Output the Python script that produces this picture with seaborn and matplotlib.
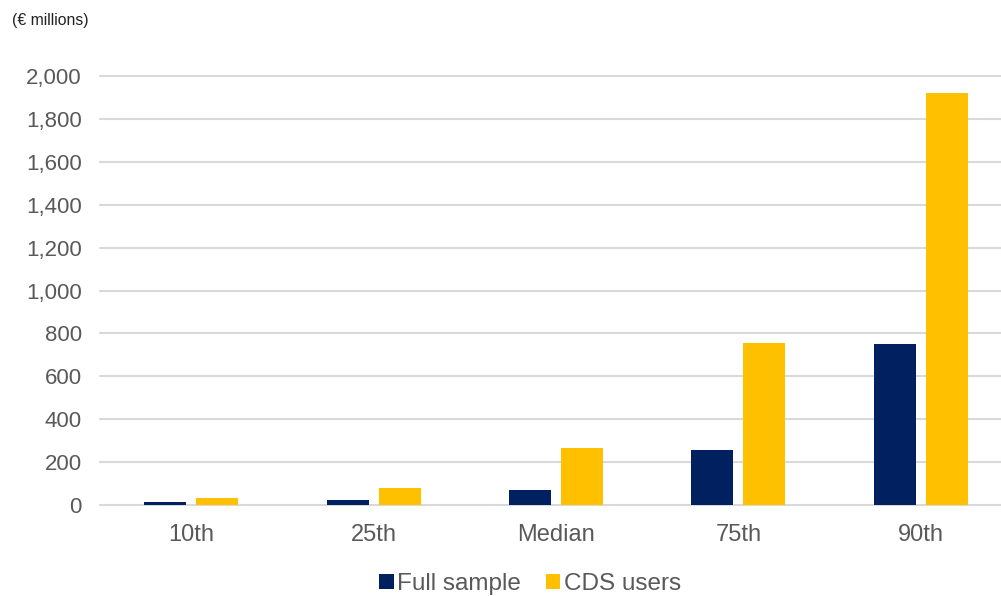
import matplotlib
matplotlib.use("Agg")
import matplotlib.pyplot as plt
import seaborn as sns
import pandas as pd
from matplotlib.patches import Patch

categories = ["10th", "25th", "Median", "75th", "90th"]
full_sample = [14, 23, 70, 257, 750]
cds_users = [33, 79, 266, 757, 1920]
series_names = ["Full sample", "CDS users"]
colors = ["#002060", "#FFC000"]
yticks = [0, 200, 400, 600, 800, 1000, 1200, 1400, 1600, 1800, 2000]

df = pd.DataFrame({
    "cat": categories * 2,
    "value": full_sample + cds_users,
    "series": [series_names[0]] * 5 + [series_names[1]] * 5,
})

sns.set_theme(style="white")
plt.rcParams["font.family"] = ["Liberation Sans", "DejaVu Sans"]
text_color = "#595959"

fig = plt.figure(figsize=(10.01, 5.96), dpi=100)
ax = fig.add_axes([100 / 1001, 91 / 596, 901 / 1001, (505 - 76) / 596])

sns.barplot(data=df, x="cat", y="value", hue="series", order=categories,
            hue_order=series_names, palette=colors, width=0.57, gap=0.19,
            saturation=1, ax=ax, legend=False, edgecolor="none")

ax.set_xlim(-0.5, 4.44)
ax.set_ylim(0, 2000)
ax.set_yticks(yticks)
ax.set_yticklabels([f"{v:,}" for v in yticks])
ax.set_xlabel("")
ax.set_ylabel("")
ax.yaxis.grid(True, color="#d9d9d9", linewidth=1.5)
ax.set_axisbelow(True)
for s in ax.spines.values():
    s.set_visible(False)
ax.tick_params(axis="y", length=0, pad=13, labelsize=16, labelcolor=text_color)
ax.tick_params(axis="x", length=0, pad=14, labelsize=17, labelcolor=text_color)
for gl in ax.get_ygridlines():
    gl.set_clip_on(False)

fig.text(12 / 1001, 1 - 20 / 596, "(€ millions)", fontsize=11.3, color="#222222",
         va="center", ha="left")

handles = [Patch(facecolor=c, edgecolor="none", label=n) for c, n in zip(colors, series_names)]
leg = fig.legend(handles=handles, loc="center", bbox_to_anchor=(530 / 1001, 1 - 584 / 596),
                 ncol=2, frameon=False, fontsize=17.5, handlelength=0.6, handleheight=0.6,
                 handletextpad=0.15, columnspacing=1.0)
for t in leg.get_texts():
    t.set_color(text_color)

fig.savefig("out.png", dpi=100)
